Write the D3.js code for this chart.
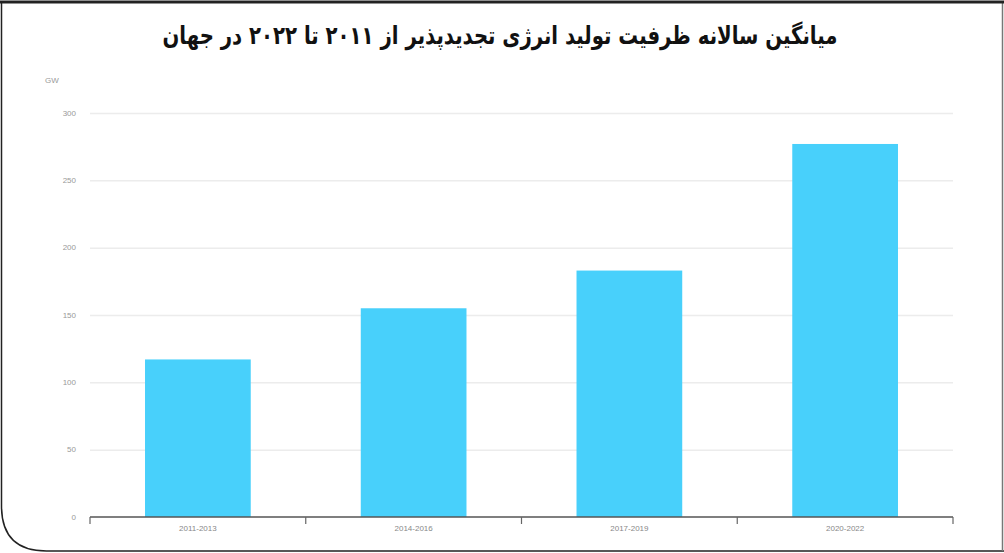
<!DOCTYPE html>
<html>
<head>
<meta charset="utf-8">
<script src="https://cdn.jsdelivr.net/npm/d3@7"></script>
<style>
  body { margin: 0; background: #fff; }
  svg { display: block; }
</style>
</head>
<body>
<div id="chart"></div>
<script>
// chart data
var periods = ["2011-2013", "2014-2016", "2017-2019", "2020-2022"];
var capacity = [117, 155, 183, 277];
var yTicks = [0, 50, 100, 150, 200, 250, 300];
var unitLabel = "GW";
var title = "میانگین سالانه ظرفیت تولید انرژی تجدیدپذیر از ۲۰۱۱ تا ۲۰۲۲ در جهان";

var width = 1004, height = 553;
var plot = { left: 90, right: 953, top: 113, bottom: 517 };

var svg = d3.select("#chart").append("svg")
  .attr("width", width)
  .attr("height", height);

// frame with rounded bottom-left corner
var r = 45;
svg.append("path")
  .attr("d", "M1002,2 L1.5,2 L1.5," + (551 - r) + " Q1.5,551 " + (1.5 + r) + ",551 L1004,551")
  .attr("fill", "none")
  .attr("stroke", "#222")
  .attr("stroke-width", 1.5);
svg.append("line")
  .attr("x1", 1002.5).attr("x2", 1002.5).attr("y1", 2).attr("y2", 551)
  .attr("stroke", "#777").attr("stroke-width", 1.5);
svg.append("line")
  .attr("x1", 0).attr("x2", 1004).attr("y1", 2).attr("y2", 2)
  .attr("stroke", "#222").attr("stroke-width", 3);

// title (squeezed to the width it takes in the original)
svg.append("text")
  .attr("x", 500)
  .attr("y", 44)
  .attr("text-anchor", "middle")
  .attr("direction", "rtl")
  .attr("textLength", 675)
  .attr("lengthAdjust", "spacingAndGlyphs")
  .style("font-family", "'DejaVu Sans', sans-serif")
  .style("font-weight", "bold")
  .style("font-size", "25px")
  .style("fill", "#111")
  .text(title);

var x = d3.scaleBand()
  .domain(periods)
  .range([plot.left, plot.right])
  .paddingInner(0.51)
  .paddingOuter(0.255);

var y = d3.scaleLinear()
  .domain([0, 300])
  .range([plot.bottom, plot.top]);

// gridlines
svg.append("g")
  .selectAll("line")
  .data(yTicks.slice(1))
  .enter()
  .append("line")
  .attr("x1", plot.left)
  .attr("x2", plot.right)
  .attr("y1", function(d) { return y(d) + 0.5; })
  .attr("y2", function(d) { return y(d) + 0.5; })
  .attr("stroke", "#ececec")
  .attr("stroke-width", 1.5);

// y tick labels
svg.append("g")
  .selectAll("text")
  .data(yTicks)
  .enter()
  .append("text")
  .attr("x", 76)
  .attr("y", function(d) { return y(d); })
  .attr("dy", "0.35em")
  .attr("text-anchor", "end")
  .style("font-family", "'Liberation Sans', Arial, sans-serif")
  .style("font-size", "8px")
  .style("fill", "#999")
  .text(function(d) { return d; });

svg.append("text")
  .attr("x", 52)
  .attr("y", 80)
  .attr("dy", "0.35em")
  .attr("text-anchor", "middle")
  .style("font-family", "'Liberation Sans', Arial, sans-serif")
  .style("font-size", "8px")
  .style("fill", "#999")
  .text(unitLabel);

// bars
svg.append("g")
  .selectAll("rect")
  .data(capacity)
  .enter()
  .append("rect")
  .attr("x", function(d, i) { return x(periods[i]); })
  .attr("y", function(d) { return y(d); })
  .attr("width", x.bandwidth())
  .attr("height", function(d) { return y(0) - y(d); })
  .attr("fill", "#48d0fb");

// x axis: baseline with ticks at band boundaries
var step = x.step();
var boundaries = d3.range(periods.length + 1).map(function(i) { return plot.left + i * step; });
var axis = svg.append("g");
axis.append("line")
  .attr("x1", plot.left).attr("x2", plot.right)
  .attr("y1", plot.bottom).attr("y2", plot.bottom)
  .attr("stroke", "#555").attr("stroke-width", 1.5);
axis.selectAll(".tick")
  .data(boundaries)
  .enter()
  .append("line")
  .attr("class", "tick")
  .attr("x1", function(d) { return d; }).attr("x2", function(d) { return d; })
  .attr("y1", plot.bottom).attr("y2", plot.bottom + 7)
  .attr("stroke", "#666").attr("stroke-width", 1.2);

axis.selectAll(".lbl")
  .data(periods)
  .enter()
  .append("text")
  .attr("class", "lbl")
  .attr("x", function(d) { return x(d) + x.bandwidth() / 2; })
  .attr("y", 531)
  .attr("text-anchor", "middle")
  .style("font-family", "'Liberation Sans', Arial, sans-serif")
  .style("font-size", "8px")
  .style("fill", "#888")
  .text(function(d) { return d; });
</script>
</body>
</html>
